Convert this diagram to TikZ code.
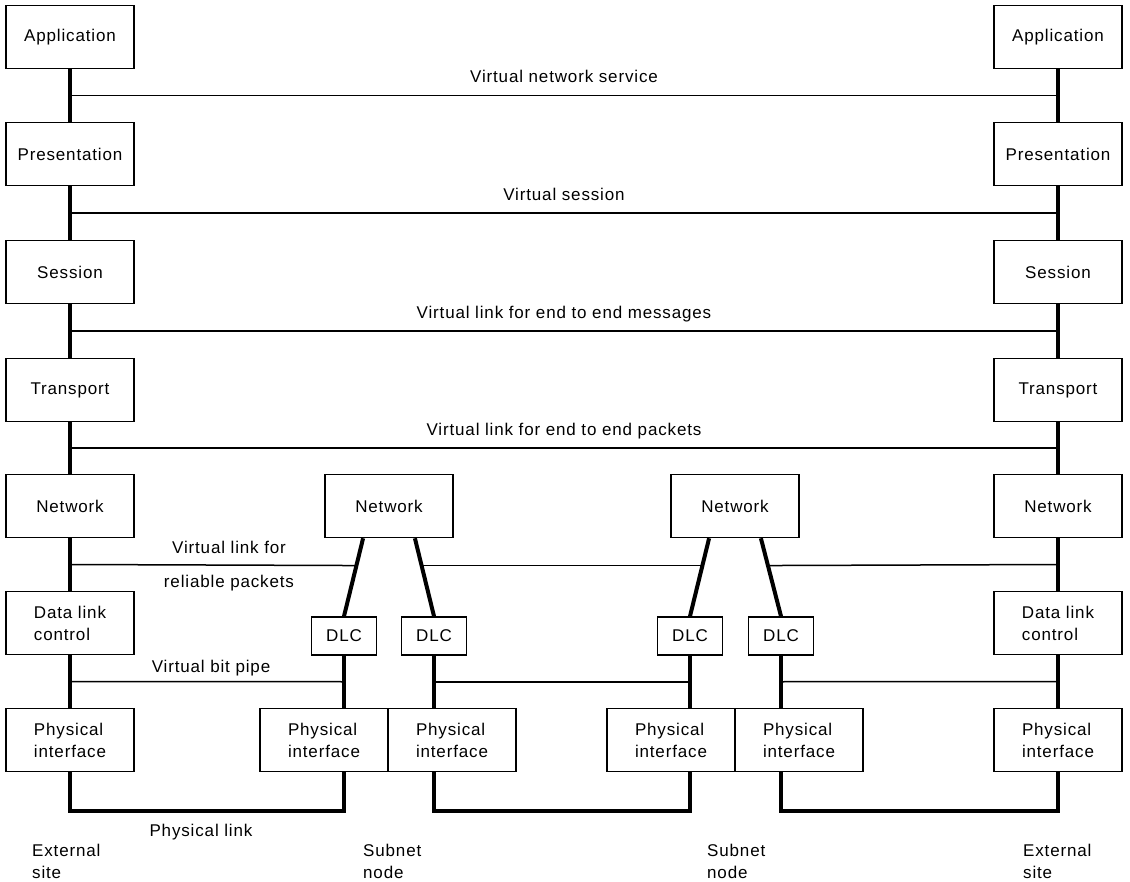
\documentclass[tikz,border=0pt]{standalone}
\usepackage{fontspec}
\setmainfont{Liberation Sans}[LetterSpace=5]
\usetikzlibrary{calc}

\newcommand{\osifont}{\fontsize{17}{22}\selectfont}

\tikzset{
  layer/.style={draw, line width=1.5pt, minimum width=128pt, minimum height=63pt,
    inner sep=0pt, align=left, font=\osifont},
  dlcbox/.style={draw, line width=1.5pt, minimum width=65pt, minimum height=38pt,
    inner sep=0pt, font=\osifont},
  pipe/.style={line width=4pt},
  virt/.style={line width=1.5pt},
  vlabel/.style={inner sep=0pt, text depth=0pt, font=\osifont}
}

\begin{document}
\begin{tikzpicture}[x=1pt, y=-1pt]
\useasboundingbox (0,0) rectangle (1130,882);

% external sites
\node[layer] (appL) at (70,37) {Application};
\node[layer] (presL) at (70,154) {Presentation};
\node[layer] (sessL) at (70,272) {Session};
\node[layer] (transL) at (70,390) {Transport};
\node[layer] (netL) at (70,506) {Network};
\node[layer] (dlcL) at (70,623) {Data link\\control};
\node[layer] (physL) at (70,740) {Physical\\interface};

\node[layer] (appR) at (1058,37) {Application};
\node[layer] (presR) at (1058,154) {Presentation};
\node[layer] (sessR) at (1058,272) {Session};
\node[layer] (transR) at (1058,390) {Transport};
\node[layer] (netR) at (1058,506) {Network};
\node[layer] (dlcR) at (1058,623) {Data link\\control};
\node[layer] (physR) at (1058,740) {Physical\\interface};

% subnet nodes
\node[layer] (netA) at (389,506) {Network};
\node[dlcbox] (dlcA1) at (344,636) {DLC};
\node[dlcbox] (dlcA2) at (434,636) {DLC};
\node[layer] (physA1) at (324,740) {Physical\\interface};
\node[layer] (physA2) at (452,740) {Physical\\interface};

\node[layer] (netB) at (735,506) {Network};
\node[dlcbox] (dlcB1) at (690,636) {DLC};
\node[dlcbox] (dlcB2) at (781,636) {DLC};
\node[layer] (physB1) at (671,740) {Physical\\interface};
\node[layer] (physB2) at (799,740) {Physical\\interface};

\foreach \a/\b in {appL/presL, presL/sessL, sessL/transL, transL/netL, netL/dlcL, dlcL/physL,
                   appR/presR, presR/sessR, sessR/transR, transR/netR, netR/dlcR, dlcR/physR}
  \draw[pipe] (\a) -- (\b);

\coordinate (netA-l) at ($(netA.south west)!.3!(netA.south east)$);
\coordinate (netA-r) at ($(netA.south west)!.7!(netA.south east)$);
\coordinate (netB-l) at ($(netB.south west)!.3!(netB.south east)$);
\coordinate (netB-r) at ($(netB.south west)!.7!(netB.south east)$);

\draw[pipe] (netA-l) -- coordinate[pos=.35] (relA1) (dlcA1.north);
\draw[pipe] (netA-r) -- coordinate[pos=.35] (relA2) (dlcA2.north);
\draw[pipe] (netB-l) -- coordinate[pos=.35] (relB1) (dlcB1.north);
\draw[pipe] (netB-r) -- coordinate[pos=.35] (relB2) (dlcB2.north);

\draw[pipe] (dlcA1.south) -- coordinate (bitA1) (dlcA1.south |- physA1.north);
\draw[pipe] (dlcA2.south) -- coordinate (bitA2) (dlcA2.south |- physA2.north);
\draw[pipe] (dlcB1.south) -- coordinate (bitB1) (dlcB1.south |- physB1.north);
\draw[pipe] (dlcB2.south) -- coordinate (bitB2) (dlcB2.south |- physB2.north);

% physical links
\draw[pipe] (physL.south) -- ++(0,39) -| (dlcA1.south |- physA1.south);
\draw[pipe] (dlcA2.south |- physA2.south) -- ++(0,39) -| (dlcB1.south |- physB1.south);
\draw[pipe] (dlcB2.south |- physB2.south) -- ++(0,39) -| (physR.south);

% virtual links
\draw[virt] ($(appL)!.5!(presL)$) -- ($(appR)!.5!(presR)$)
  node[midway, above=12pt, vlabel] {Virtual network service};
\draw[virt] ($(presL)!.5!(sessL)$) -- ($(presR)!.5!(sessR)$)
  node[midway, above=12pt, vlabel] {Virtual session};
\draw[virt] ($(sessL)!.5!(transL)$) -- ($(sessR)!.5!(transR)$)
  node[midway, above=12pt, vlabel] {Virtual link for end to end messages};
\draw[virt] ($(transL)!.5!(netL)$) -- ($(transR)!.5!(netR)$)
  node[midway, above=12pt, vlabel] {Virtual link for end to end packets};

\draw[virt] ($(netL)!.5!(dlcL)$) -- (relA1);
\draw[virt] (relA2) -- (relB1);
\draw[virt] (relB2) -- ($(netR)!.5!(dlcR)$);

\draw[virt] ($(dlcL)!.5!(physL)$) -- (bitA1);
\draw[virt] (bitA2) -- (bitB1);
\draw[virt] (bitB2) -- ($(dlcR)!.5!(physR)$);

% labels
\node[vlabel] (relTop) at (229,547) {Virtual link for};
\node[vlabel] (relBot) at (229,581) {reliable packets};
\node[vlabel] (bitLbl) at (211,666) {Virtual bit pipe};
\node[vlabel] (physLbl) at (201,830) {Physical link};

\node[vlabel, align=left, anchor=north west] (siteL) at (32,844) {External\\site};
\node[vlabel, align=left, anchor=north west] (subA) at (363,844) {Subnet\\node};
\node[vlabel, align=left, anchor=north west] (subB) at (707,844) {Subnet\\node};
\node[vlabel, align=left, anchor=north west] (siteR) at (1023,844) {External\\site};

\end{tikzpicture}
\end{document}
